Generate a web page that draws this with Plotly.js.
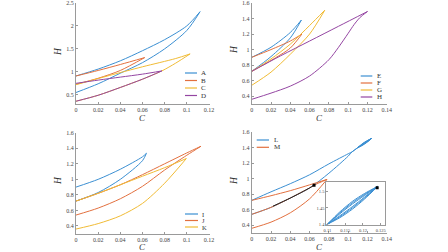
<!DOCTYPE html>
<html><head><meta charset="utf-8">
<script src="https://cdn.plot.ly/plotly-3.0.1.min.js"></script>
<style>html,body{margin:0;padding:0;background:#fff;}#chart{width:448px;height:252px;}</style>
</head><body><div id="chart"></div>
<script>
// ---------- Panel 1 (A-D) ----------
const A_C = [0,0.02,0.04,0.06,0.08,0.10,0.112, null, 0,0.02,0.04,0.06,0.08,0.10,0.112];
const A_H = [0.91,1.06,1.24,1.46,1.70,2.00,2.31, null, 0.55,0.74,0.97,1.20,1.50,1.90,2.31];
const B_C = [0,0.02,0.04,0.062, null, 0,0.02,0.04,0.062];
const B_H = [0.91,1.03,1.16,1.31, null, 0.73,0.86,1.03,1.31];
const C_C = [0,0.03,0.06,0.09,0.103, null, 0,0.02,0.04,0.06,0.0775,0.09,0.103];
const C_H = [0.72,0.92,1.11,1.29,1.39, null, 0.36,0.49,0.66,0.84,1.02,1.19,1.39];
const D_C = [0,0.02,0.04,0.06,0.0775, null, 0,0.02,0.04,0.06,0.0775];
const D_H = [0.75,0.82,0.885,0.95,1.02, null, 0.36,0.49,0.66,0.84,1.02];
// ---------- Panel 2 (E-H) ----------
const E_C = [0,0.02,0.04,0.0515, null, 0,0.02,0.04,0.0515];
const E_H = [0.90,1.03,1.22,1.38, null, 0.72,0.91,1.15,1.38];
const F_C = [0,0.02,0.04,0.052, null, 0,0.02,0.04,0.052];
const F_H = [0.90,1.00,1.11,1.20, null, 0.72,0.86,1.02,1.20];
const G_C = [0,0.02,0.04,0.06,0.0757, null, 0,0.02,0.04,0.06,0.0757];
const G_H = [0.72,0.88,1.07,1.31,1.506, null, 0.54,0.71,0.94,1.20,1.506];
const H_C = [0,0.03,0.06,0.09,0.12, null, 0,0.02,0.04,0.06,0.08,0.09,0.10,0.106,0.112,0.12];
const H_H = [0.72,0.92,1.11,1.30,1.49, null, 0.36,0.44,0.53,0.66,0.87,1.03,1.21,1.32,1.41,1.49];
// ---------- Panel 3 (I-K) ----------
const I_C = [0,0.02,0.04,0.06,0.0636, null, 0,0.02,0.04,0.06,0.0636];
const I_H = [0.90,1.00,1.13,1.29,1.336, null, 0.72,0.83,1.00,1.24,1.336];
const J_C = [0,0.02,0.04,0.06,0.08,0.10,0.1128, null, 0,0.02,0.04,0.06,0.08,0.10,0.1128];
const J_H = [0.72,0.82,0.93,1.06,1.20,1.34,1.426, null, 0.54,0.63,0.75,0.91,1.12,1.31,1.426];
const K_C = [0,0.02,0.04,0.06,0.08,0.0996, null, 0,0.02,0.04,0.06,0.08,0.0996];
const K_H = [0.72,0.82,0.93,1.04,1.15,1.268, null, 0.36,0.43,0.53,0.69,0.95,1.268];
// ---------- Panel 4 (L, M) ----------
const L_C = [0,0.02,0.04,0.06,0.08,0.10,0.104,0.11, null,
             0,0.02,0.04,0.06,0.08,0.10,0.104,0.11, null,
             0.11,0.1135,0.117,0.1205,0.1242, null, 0.1242,0.1205,0.117,0.1135,0.11, null,
             0.11,0.1135,0.117,0.1205,0.1242, null, 0.1242,0.1205,0.117,0.1135,0.11, null,
             0.11,0.1135,0.117,0.1205,0.1242, null, 0.1242,0.1205,0.117,0.1135,0.11];
const L_H = [0.72,0.83,0.935,1.05,1.19,1.32,1.345,1.40, null,
             0.54,0.63,0.75,0.88,1.07,1.29,1.345,1.40, null,
             1.40,1.438,1.470,1.495,1.517, null, 1.517,1.478,1.446,1.420,1.40, null,
             1.40,1.435,1.466,1.492,1.517, null, 1.517,1.481,1.450,1.423,1.40, null,
             1.40,1.432,1.462,1.489,1.517, null, 1.517,1.484,1.454,1.426,1.40];
const M_C = [0,0.02,0.04,0.06,0.078, null, 0,0.02,0.04,0.06,0.0646,0.078, null, 0,0.02,0.04,0.06,0.078];
const M_H = [0.72,0.78,0.845,0.92,0.99, null, 0.54,0.63,0.75,0.88,0.915,0.99, null, 0.36,0.44,0.56,0.74,0.99];
const PATH_C = [0.022,0.04,0.06,0.0646];
const PATH_H = [0.645,0.75,0.88,0.915];
const MARK_C = [0.0646, 0.1240];
const MARK_H = [0.915, 1.512];

const names1 = ['A','B','C','D'], names2 = ['E','F','G','H'], names3 = ['I','J','K'], names4 = ['L','M'];
const xLabel = 'C', yLabel = 'H';
const COL = {blue:'#3b8fd2', red:'#e2703f', yellow:'#f0bb35', purple:'#9446a2'};
const SERIF = 'Liberation Serif, Times New Roman, serif';

function ln(x, y, color, xa, ya) {
  return {type:'scatter', mode:'lines', x:x, y:y, xaxis:xa, yaxis:ya,
          line:{color:color, width:1, shape:'spline', smoothing:0.8}, showlegend:false, hoverinfo:'skip', connectgaps:false};
}
function mk(x, y, xa, ya) {
  return {type:'scatter', mode:'markers', x:x, y:y, xaxis:xa, yaxis:ya,
          marker:{color:'#000', size:3, symbol:'square'}, showlegend:false, hoverinfo:'skip'};
}
const traces = [
  ln(A_C,A_H,COL.blue,'x','y'), ln(B_C,B_H,COL.red,'x','y'), ln(C_C,C_H,COL.yellow,'x','y'), ln(D_C,D_H,COL.purple,'x','y'),
  ln(E_C,E_H,COL.blue,'x2','y2'), ln(F_C,F_H,COL.red,'x2','y2'), ln(G_C,G_H,COL.yellow,'x2','y2'), ln(H_C,H_H,COL.purple,'x2','y2'),
  ln(I_C,I_H,COL.blue,'x3','y3'), ln(J_C,J_H,COL.red,'x3','y3'), ln(K_C,K_H,COL.yellow,'x3','y3'),
  ln(L_C,L_H,COL.blue,'x4','y4'), ln(M_C,M_H,COL.red,'x4','y4'), ln(PATH_C,PATH_H,'#222','x4','y4'),
  mk([MARK_C[0]],[MARK_H[0]],'x4','y4'),
  ln(L_C,L_H,COL.blue,'x5','y5'),
  mk([MARK_C[1]],[MARK_H[1]],'x5','y5')
];

const W = 448, H = 252;
const px = v => v / W, py = v => 1 - v / H;
function ax(domain, range, dtick, anchor, extra) {
  const o = {domain:domain, range:range, tickmode:'linear', tick0:0, dtick:dtick, anchor:anchor,
    showline:true, linecolor:'#9a9a9a', linewidth:1, ticks:'inside', ticklen:2, tickcolor:'#9a9a9a',
    showgrid:false, zeroline:false, fixedrange:true, automargin:false,
    tickfont:{family:SERIF, size:6, color:'#444'}};
  return Object.assign(o, extra || {});
}
const dx1 = [px(76), px(209.5)], dx2 = [px(251.7), px(387.3)];
const dyTop = [py(104), py(2.7)], dyBot3 = [py(233.7), py(132.5)], dyBot4 = [py(233), py(131.8)];
const inTick = {family:SERIF, size:4.5, color:'#444'};

const layout = {
  width:W, height:H, margin:{l:0,r:0,t:0,b:0}, paper_bgcolor:'#fff', plot_bgcolor:'#fff', showlegend:false,
  xaxis: ax(dx1, [0,0.1205], 0.02, 'y'),
  yaxis: ax(dyTop, [0.3,2.505], 0.5, 'x'),
  xaxis2: ax(dx2, [0,0.1405], 0.02, 'y2'),
  yaxis2: ax(dyTop, [0.3,1.603], 0.2, 'x2'),
  xaxis3: ax(dx1, [0,0.1205], 0.02, 'y3'),
  yaxis3: ax(dyBot3, [0.3,1.603], 0.2, 'x3'),
  xaxis4: ax(dx2, [0,0.1405], 0.02, 'y4'),
  yaxis4: ax(dyBot4, [0.3,1.603], 0.2, 'x4'),
  xaxis5: ax([px(326.3), px(385)], [0.1097,0.1262], 0.005, 'y5', {tick0:0.11, mirror:true, tickfont:inTick}),
  yaxis5: ax([py(225.2), py(182)], [1.397,1.53], 0.05, 'x5', {tick0:1.4, mirror:true, tickfont:inTick}),
  shapes: [], annotations: []
};

// axis titles (italic serif, MATLAB-like placement)
const titleFont = {family:SERIF, size:9, color:'#333'};
[[142.7,118],[319.5,118],[142.7,247],[319.5,247]].forEach(p => layout.annotations.push({
  xref:'paper', yref:'paper', x:px(p[0]), y:py(p[1]), text:'<i>'+xLabel+'</i>', showarrow:false,
  xanchor:'center', yanchor:'middle', font:titleFont}));
[[58,52],[234,50],[58,181],[234,181]].forEach(p => layout.annotations.push({
  xref:'paper', yref:'paper', x:px(p[0]), y:py(p[1]), text:'<i>'+yLabel+'</i>', showarrow:false, textangle:-90,
  xanchor:'center', yanchor:'middle', font:{family:SERIF, size:9.5, color:'#333'}}));

// compact MATLAB-like legends
function legend(names, colors, x0, x1, xt, ys, fs) {
  names.forEach((n, i) => {
    layout.shapes.push({type:'line', xref:'paper', yref:'paper', x0:px(x0), x1:px(x1), y0:py(ys[i]), y1:py(ys[i]),
      line:{color:colors[i], width:1.2}});
    layout.annotations.push({xref:'paper', yref:'paper', x:px(xt), y:py(ys[i]), text:n, showarrow:false,
      xanchor:'left', yanchor:'middle', font:{family:SERIF, size:fs, color:'#333'}});
  });
}
legend(names1, [COL.blue,COL.red,COL.yellow,COL.purple], 185, 197, 199, [73, 80.5, 88, 95.5], 7);
legend(names2, [COL.blue,COL.red,COL.yellow,COL.purple], 360.7, 372.3, 374.5, [76, 83, 90, 97], 7);
legend(names3, [COL.blue,COL.red,COL.yellow], 185, 198, 200, [214, 220.5, 227], 6.5);
legend(names4, [COL.blue,COL.red], 256.7, 269, 271.5, [140, 147.3], 7);

Plotly.newPlot('chart', traces, layout, {staticPlot:true, displayModeBar:false});
</script></body></html>
